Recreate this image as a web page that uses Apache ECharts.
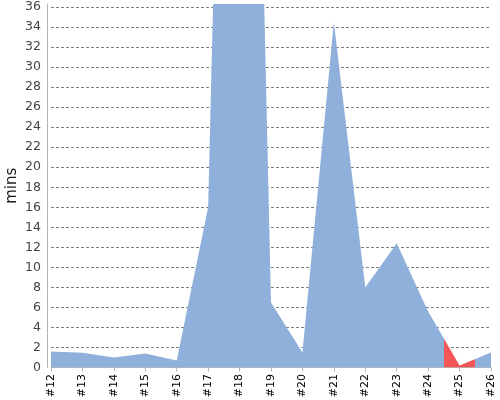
<!DOCTYPE html>
<html><head><meta charset="utf-8">
<script src="https://cdn.jsdelivr.net/npm/echarts@6/dist/echarts.min.js"></script>
<style>html,body{margin:0;padding:0;background:#fff}#c{width:500px;height:400px}</style>
</head><body><div id="c"></div>
<script>
var categories = ['#12','#13','#14','#15','#16','#17','#18','#19','#20','#21','#22','#23','#24','#25','#26'];
var minsValues = [1.6, 1.47, 1.0, 1.4, 0.7, 16, 145, 6.5, 1.5, 34.5, 8.0, 12.4, 5.6, 0.2, 1.5];
var yTicks = [0,2,4,6,8,10,12,14,16,18,20,22,24,26,28,30,32,34,36];
var highlightCategory = '#25';

var blue = '#8eb0da', red = '#f25656';
var splitColors = yTicks.map(function(){return '#808080';}).concat(['rgba(0,0,0,0)']);

var chart = echarts.init(document.getElementById('c'), null, {renderer:'canvas'});
var option = {
  animation:false,
  grid:{left:51, right:9, top:4, bottom:32.5, containLabel:false, outerBoundsMode:'none'},
  xAxis:{
    type:'category', data:categories, boundaryGap:false, offset:1.5,
    axisLine:{lineStyle:{color:'#b5b5b5', width:1}},
    axisTick:{show:true, alignWithLabel:true, length:4, lineStyle:{color:'#b5b5b5'}},
    axisLabel:{rotate:90, interval:0, margin:5, fontSize:11, color:'#000', fontFamily:'DejaVu Sans'},
    splitLine:{show:false}
  },
  yAxis:{
    type:'value', min:0, max:36.3, interval:2, offset:4,
    name:'mins', nameLocation:'middle', nameGap:27, nameRotate:90, nameMoveOverlap:false,
    nameTextStyle:{fontSize:15, color:'#1a1a1a', fontFamily:'DejaVu Sans'},
    axisLine:{show:true, lineStyle:{color:'#b5b5b5'}},
    axisTick:{show:false},
    axisLabel:{fontSize:12.5, color:'#444', fontFamily:'DejaVu Sans', margin:6,
      formatter:function(v){return yTicks.indexOf(v)>=0 ? String(v) : '';}},
    splitLine:{show:true, lineStyle:{color:splitColors, type:[3,2], width:1}}
  },
  series:[{
    type:'line', data:minsValues, symbol:'none', clip:true,
    lineStyle:{width:0},
    areaStyle:{opacity:1, color:blue}
  }]
};
chart.setOption(option);

// Highlight the area around one category: from halfway to the previous point to halfway to the next point
var hi = categories.indexOf(highlightCategory);
var toX = function(i){ return chart.convertToPixel({xAxisIndex:0}, categories[i]); };
var xFirst = toX(0);
var xLast = toX(categories.length-1);
var xPrev = toX(hi-1), xHi = toX(hi), xNext = toX(hi+1);
var a = ((xPrev + xHi)/2 - xFirst) / (xLast - xFirst);
var b = ((xHi + xNext)/2 - xFirst) / (xLast - xFirst);
chart.setOption({
  series:[{
    areaStyle:{opacity:1, color:new echarts.graphic.LinearGradient(xFirst, 0, xLast, 0, [
      {offset:0, color:blue}, {offset:a, color:blue},
      {offset:a, color:red}, {offset:b, color:red},
      {offset:b, color:blue}, {offset:1, color:blue}
    ], true)}
  }]
});
</script></body></html>
